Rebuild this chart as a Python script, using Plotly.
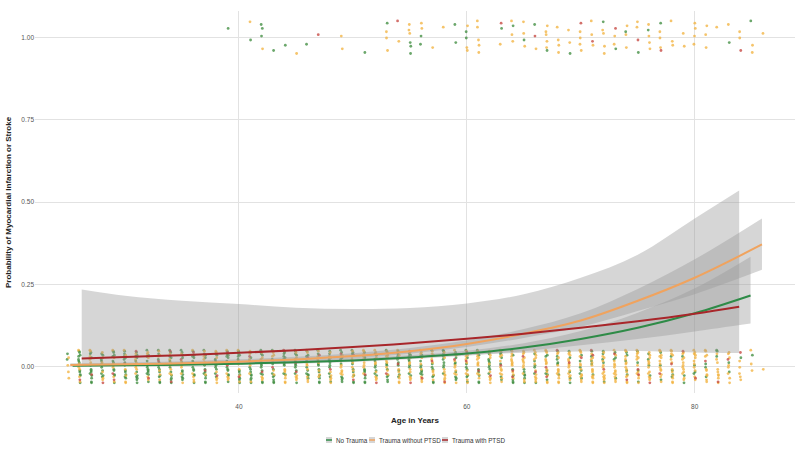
import plotly.graph_objects as go

# ---------------- fitted logistic curves ----------------
green_age = [25.4, 30, 35, 40, 45, 50, 55, 60, 65, 70, 75, 80, 84.9]
green_fit = [0.003, 0.004, 0.006, 0.009, 0.013, 0.019, 0.028, 0.040, 0.058, 0.084, 0.118, 0.162, 0.216]
green_lo = [0.0014, 0.0021, 0.0035, 0.0058, 0.0091, 0.0144, 0.0226, 0.0330, 0.0471, 0.0648, 0.0838, 0.107, 0.131]
green_hi = [0.0063, 0.0076, 0.0103, 0.0141, 0.0185, 0.025, 0.0347, 0.0484, 0.0714, 0.108, 0.164, 0.238, 0.334]

orange_age = [25.2, 30, 35, 40, 45, 50, 55, 60, 65, 70, 75, 80, 85.9]
orange_fit = [0.005, 0.007, 0.010, 0.015, 0.022, 0.032, 0.047, 0.069, 0.100, 0.140, 0.200, 0.270, 0.371]
orange_lo = [0.0025, 0.0039, 0.0061, 0.0101, 0.0161, 0.0251, 0.0392, 0.0594, 0.0873, 0.121, 0.169, 0.220, 0.294]
orange_hi = [0.0101, 0.0127, 0.0164, 0.0222, 0.0301, 0.0407, 0.0563, 0.080, 0.114, 0.162, 0.236, 0.326, 0.450]

red_age = [26.2, 30, 35, 40, 45, 50, 55, 60, 65, 70, 75, 80, 83.9]
red_fit = [0.025, 0.029, 0.035, 0.042, 0.050, 0.060, 0.071, 0.085, 0.100, 0.118, 0.138, 0.161, 0.182]
red_lo = [0.0022, 0.0033, 0.0052, 0.0082, 0.0125, 0.0188, 0.0263, 0.0351, 0.0420, 0.0461, 0.0473, 0.0431, 0.0413]
red_hi = [0.234, 0.215, 0.200, 0.190, 0.179, 0.175, 0.178, 0.192, 0.220, 0.270, 0.340, 0.450, 0.535]

# ---------------- observations (outcome 0: counts per age 25..86) ----------------
ages = list(range(25, 87))
green_n0 = [2, 12, 12, 11, 12, 12, 11, 12, 12, 11, 12, 12, 12, 11, 12, 12, 11, 12, 11, 11, 11,
            10, 11, 10, 9, 10, 9, 9, 9, 9, 9, 9, 8, 9, 8, 8, 7, 8, 6, 7, 6, 6, 6, 6, 5, 6,
            5, 5, 4, 5, 4, 4, 3, 4, 3, 3, 3, 3, 2, 1, 1, 0]
orange_n0 = [4, 6, 5, 6, 6, 6, 7, 6, 6, 7, 6, 6, 6, 7, 6, 6, 7, 6, 7, 7, 7,
             8, 7, 8, 9, 8, 9, 9, 9, 9, 9, 9, 10, 9, 10, 10, 11, 10, 12, 11, 12, 12, 12, 12, 13, 12,
             13, 13, 13, 13, 12, 12, 13, 12, 12, 11, 10, 9, 8, 5, 3, 1]
red_n0 = [0, 1, 1, 1, 2, 1, 1, 1, 1, 2, 1, 1, 1, 1, 2, 1, 1, 1, 1, 1, 2,
          1, 1, 1, 1, 2, 1, 1, 1, 1, 2, 1, 1, 1, 1, 2, 1, 1, 1, 2, 1, 1, 2, 1, 1, 1,
          2, 1, 1, 1, 2, 1, 1, 1, 1, 1, 1, 1, 1, 1, 0, 0]

# ---------------- observations (outcome 1: one age per event) ----------------
green_age1 = [39, 41, 42, 42, 42, 43, 44, 46, 51, 53, 55, 55, 55, 56, 56, 59, 59, 60, 60, 63, 64, 65,
              66, 67, 69, 72, 73, 74, 75, 76, 77, 83, 85]
orange_age1 = [41, 42, 45, 49, 49, 53, 53, 53, 54, 55, 55, 55, 56, 56, 57, 58, 60, 60, 60, 61, 61, 61,
               61, 61, 63, 64, 64, 64, 65, 65, 65, 66, 67, 67, 67, 67, 67, 68, 68, 68, 68, 69, 69,
               70, 70, 70, 70, 71, 71, 71, 72, 72, 72, 72, 73, 73, 74, 74, 74, 75, 75, 76, 76, 76,
               76, 77, 77, 77, 78, 78, 78, 79, 79, 80, 80, 80, 80, 81, 81, 81, 82, 83, 84, 84, 85,
               85, 86]
red_age1 = [47, 54, 63, 66, 70, 71, 73, 75, 77, 84]

groups = ["No Trauma", "Trauma without PTSD", "Trauma with PTSD"]
line_colors = ["#2E8B47", "#F0A35E", "#A8262A"]
point_colors = ["#3A8A3A", "#F2B03A", "#C4403A"]
band_fill = "rgba(153,153,153,0.4)"

# fixed jitter pattern (presentation only, like geom_jitter)
JY = [-0.046, 0.031, -0.008, 0.047, -0.027, 0.012, -0.049, 0.022, -0.016, 0.039, -0.035, 0.004,
      0.027, -0.021, 0.043, -0.002, -0.040, 0.017, -0.031, 0.035, 0.008, -0.012, 0.050, -0.024]
JX = [0.05, -0.07, 0.02, -0.03, 0.08, -0.01, 0.06, -0.08, 0.03, -0.05, 0.07, -0.02,
      0.05, -0.07, 0.01, -0.05, 0.04, -0.06, 0.00, 0.06, -0.04, 0.03, -0.08, 0.07]
NJ = len(JY)

pts = {0: ([], []), 1: ([], []), 2: ([], [])}


def add_column(age, outcome, counts):
    rem = list(counts)
    seq = []
    while sum(rem) > 0:
        for gi in range(3):
            if rem[gi] > 0:
                seq.append(gi)
                rem[gi] -= 1
    shift = (age * 7 + outcome * 3) % NJ
    for i, gi in enumerate(seq):
        k = (i + shift) % NJ
        pts[gi][0].append(age + JX[k])
        pts[gi][1].append(outcome + JY[k])


for a, g, o, r in zip(ages, green_n0, orange_n0, red_n0):
    add_column(a, 0, [g, o, r])
for a in ages:
    c = [green_age1.count(a), orange_age1.count(a), red_age1.count(a)]
    if sum(c):
        add_column(a, 1, c)

fig = go.Figure()

for gi in range(3):
    fig.add_trace(go.Scatter(x=pts[gi][0], y=pts[gi][1], mode="markers",
                             marker=dict(size=2.8, color=point_colors[gi], opacity=0.75),
                             showlegend=False, hoverinfo="skip"))

fits = [(green_age, green_fit, green_lo, green_hi),
        (orange_age, orange_fit, orange_lo, orange_hi),
        (red_age, red_fit, red_lo, red_hi)]

for gi, (ax, fit, lo, hi) in enumerate(fits):
    fig.add_trace(go.Scatter(x=ax, y=lo, mode="lines", line=dict(width=0, shape="spline"),
                             showlegend=False, hoverinfo="skip"))
    fig.add_trace(go.Scatter(x=ax, y=hi, mode="lines", line=dict(width=0, shape="spline"),
                             fill="tonexty", fillcolor=band_fill,
                             showlegend=False, hoverinfo="skip"))

for gi, (ax, fit, lo, hi) in enumerate(fits):
    fig.add_trace(go.Scatter(x=ax, y=fit, mode="lines", name=groups[gi], showlegend=False,
                             line=dict(color=line_colors[gi], width=2, shape="spline")))

# ---- legend drawn below the panel (ggplot-style small keys) ----
L, R, T, B = 35, 5, 11, 56
PW, PH = 800 - L - R, 449 - T - B


def px2paper(px, py):
    return (px - L) / PW, (449 - B - py) / PH


shapes = []
annotations = []
key_px = [329, 372, 445]
text_px = [334, 377, 450]
for gi in range(3):
    x0, y0 = px2paper(key_px[gi] - 3, 443)
    x1, y1 = px2paper(key_px[gi] + 3, 437)
    shapes.append(dict(type="rect", xref="paper", yref="paper", x0=x0, y0=y0, x1=x1, y1=y1,
                       fillcolor="#d6d6d6", line=dict(width=0)))
    ym = (y0 + y1) / 2
    shapes.append(dict(type="line", xref="paper", yref="paper", x0=x0, y0=ym, x1=x1, y1=ym,
                       line=dict(color=line_colors[gi], width=1.5)))
    tx, _ = px2paper(text_px[gi], 440)
    annotations.append(dict(text=groups[gi], xref="paper", yref="paper", x=tx, y=ym,
                            xanchor="left", yanchor="middle", showarrow=False,
                            font=dict(size=6.3, color="#333333")))

xt, yt = px2paper(415, 420)
annotations.append(dict(text="<b>Age in Years</b>", xref="paper", yref="paper", x=0.5, y=yt,
                        xanchor="center", yanchor="middle", showarrow=False,
                        font=dict(size=8, color="#222222")))
xy, _ = px2paper(8, 200)
annotations.append(dict(text="<b>Probability of Myocardial Infarction or Stroke</b>",
                        xref="paper", yref="paper", x=xy, y=0.5, xanchor="center",
                        yanchor="middle", textangle=-90, showarrow=False,
                        font=dict(size=8, color="#222222")))

font = "Liberation Sans, Arial, sans-serif"
fig.update_layout(
    width=800, height=449,
    margin=dict(l=L, r=R, t=T, b=B, autoexpand=False),
    paper_bgcolor="white", plot_bgcolor="white",
    font=dict(family=font, color="#333333"),
    showlegend=False,
    xaxis=dict(range=[22.1, 88.8], tickvals=[40, 60, 80], showgrid=True, automargin=False,
               gridcolor="#e2e2e2", gridwidth=1, zeroline=False, showline=False,
               ticks="", tickfont=dict(size=6.5, color="#555555"), ticklabelstandoff=8),
    yaxis=dict(range=[-0.08, 1.08], tickvals=[0, 0.25, 0.5, 0.75, 1.0], automargin=False,
               ticktext=["0.00", "0.25", "0.50", "0.75", "1.00"], showgrid=True,
               gridcolor="#e2e2e2", gridwidth=1, zeroline=False, showline=False,
               ticks="", tickfont=dict(size=6.5, color="#555555")),
    shapes=shapes,
    annotations=annotations,
)

fig.write_html("out.html", config={"displayModeBar": False},
               post_script="document.body.style.margin='0';"
                           "document.body.style.overflow='hidden';")
